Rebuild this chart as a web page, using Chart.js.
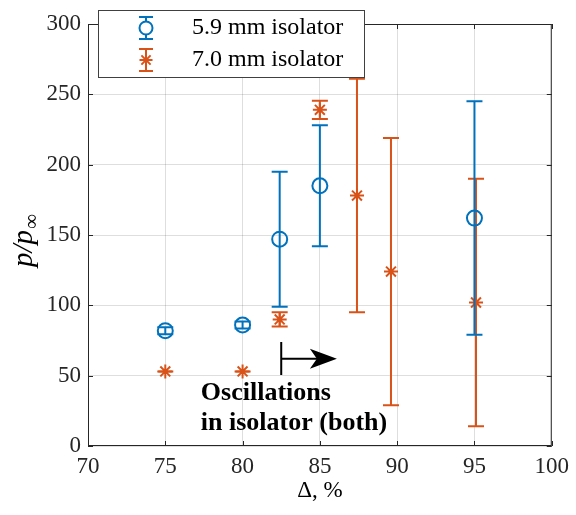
<!DOCTYPE html>
<html>
<head>
<meta charset="utf-8">
<script src="https://cdn.jsdelivr.net/npm/chart.js@4.4.1/dist/chart.umd.min.js"></script>
<style>
  body { margin: 0; background: #fff; }
  #wrap { width: 576px; height: 515px; }
</style>
</head>
<body>
<div id="wrap"><canvas id="chart"></canvas></div>
<script>
// 5.9 mm isolator: opening ratio, pressure ratio, +/- error
var deltaNarrow = [75, 80, 82.4, 85, 95];
var pressureNarrow = [82, 86, 147, 185, 162];
var errorNarrow = [2.5, 2.5, 48, 43, 83];

// 7.0 mm isolator
var deltaWide = [75, 80, 82.4, 85, 87.4, 89.6, 95.1];
var pressureWide = [53, 53, 90, 239, 178, 124, 102];
var errorWide = [0, 0, 5, 6.5, 83, 95, 88];

var xTickValues = [70, 75, 80, 85, 90, 95, 100];
var yTickValues = [0, 50, 100, 150, 200, 250, 300];

var BLUE = '#0072BD';
var ORANGE = '#D95319';
var AXIS = '#262626';
var SERIF = '"Liberation Serif", "Times New Roman", serif';

function toPoints(xs, ys, errs) {
    var out = [];
    for (var i = 0; i < xs.length; i++) {
        out.push({x: xs[i], y: ys[i], err: errs[i]});
    }
    return out;
}

function strokeErrorBar(ctx, px, top, bot, cap) {
    ctx.beginPath();
    ctx.moveTo(px, top); ctx.lineTo(px, bot);
    ctx.moveTo(px - cap, top); ctx.lineTo(px + cap, top);
    ctx.moveTo(px - cap, bot); ctx.lineTo(px + cap, bot);
    ctx.stroke();
}

// vertical error bars, drawn just under each dataset's markers
var errorBars = {
    id: 'errorBars',
    beforeDatasetDraw: function(chart, args) {
        var ds = chart.data.datasets[args.index];
        var ctx = chart.ctx, xs = chart.scales.x, ys = chart.scales.y;
        ctx.save();
        ctx.strokeStyle = ds.borderColor;
        ctx.lineWidth = 2;
        ds.data.forEach(function(d) {
            strokeErrorBar(ctx, xs.getPixelForValue(d.x),
                ys.getPixelForValue(d.y + d.err),
                ys.getPixelForValue(d.y - d.err), 8);
        });
        ctx.restore();
    }
};

// box around the axes with inward tick marks on every side
var frame = {
    id: 'frame',
    afterDatasetsDraw: function(chart) {
        var ctx = chart.ctx, a = chart.chartArea;
        var xs = chart.scales.x, ys = chart.scales.y;
        ctx.save();
        ctx.strokeStyle = AXIS;
        ctx.lineWidth = 1;
        ctx.strokeRect(a.left + 0.5, a.top + 0.5, a.right - a.left - 1, a.bottom - a.top - 1);
        ctx.beginPath();
        xTickValues.forEach(function(v) {
            var px = Math.round(xs.getPixelForValue(v)) + 0.5;
            ctx.moveTo(px, a.bottom); ctx.lineTo(px, a.bottom - 5);
            ctx.moveTo(px, a.top); ctx.lineTo(px, a.top + 5);
        });
        yTickValues.forEach(function(v) {
            var py = Math.round(ys.getPixelForValue(v)) + 0.5;
            ctx.moveTo(a.left, py); ctx.lineTo(a.left + 5, py);
            ctx.moveTo(a.right, py); ctx.lineTo(a.right - 5, py);
        });
        ctx.stroke();
        ctx.restore();
    }
};

// onset marker, arrow and note about the oscillations
var onsetNote = {
    id: 'onsetNote',
    afterDatasetsDraw: function(chart) {
        var ctx = chart.ctx, xs = chart.scales.x, ys = chart.scales.y;
        var x0 = xs.getPixelForValue(82.5), x1 = xs.getPixelForValue(86.1);
        var yArrow = ys.getPixelForValue(62);
        ctx.save();
        ctx.strokeStyle = '#000';
        ctx.fillStyle = '#000';
        ctx.lineWidth = 2;
        ctx.beginPath();
        ctx.moveTo(x0, ys.getPixelForValue(74));
        ctx.lineTo(x0, ys.getPixelForValue(50.5));
        ctx.moveTo(x0, yArrow);
        ctx.lineTo(x1 - 14, yArrow);
        ctx.stroke();
        ctx.beginPath();
        ctx.moveTo(x1, yArrow);
        ctx.lineTo(x1 - 27, yArrow - 10);
        ctx.lineTo(x1 - 20, yArrow);
        ctx.lineTo(x1 - 27, yArrow + 10);
        ctx.closePath();
        ctx.fill();

        ctx.font = 'bold 26px ' + SERIF;
        ctx.textBaseline = 'middle';
        ctx.textAlign = 'left';
        var tx = xs.getPixelForValue(77.3);
        ctx.fillText('Oscillations', tx, ys.getPixelForValue(37.7));
        ctx.fillText('in isolator (both)', tx, ys.getPixelForValue(16.4));
        ctx.restore();
    }
};

// legend box, axis titles
var decorations = {
    id: 'decorations',
    afterDraw: function(chart) {
        var ctx = chart.ctx, a = chart.chartArea;
        ctx.save();

        // legend
        ctx.fillStyle = '#fff';
        ctx.fillRect(98, 10, 266, 67);
        ctx.strokeStyle = '#404040';
        ctx.lineWidth = 1;
        ctx.strokeRect(98.5, 10.5, 266, 67);
        var rows = [28, 60];
        chart.data.datasets.forEach(function(ds, i) {
            var y = rows[i];
            ctx.strokeStyle = ds.borderColor;
            ctx.lineWidth = 2;
            strokeErrorBar(ctx, 146, y - 11, y + 11, 7);
            Chart.helpers.drawPoint(ctx, {
                pointStyle: ds.pointStyle, radius: 6.5, borderWidth: 2, rotation: 0
            }, 146, y);
            ctx.fillStyle = '#000';
            ctx.font = '24px ' + SERIF;
            ctx.textBaseline = 'middle';
            ctx.textAlign = 'left';
            ctx.fillText(ds.label, 192, y);
        });

        // x title
        ctx.fillStyle = '#000';
        ctx.font = '23px ' + SERIF;
        ctx.textAlign = 'center';
        ctx.textBaseline = 'middle';
        ctx.fillText('\u0394, %', (a.left + a.right) / 2, 491);

        // y title: p/p with a subscript infinity
        ctx.translate(32, 241);
        ctx.rotate(-Math.PI / 2);
        ctx.font = 'italic 29px ' + SERIF;
        var main = 'p/p';
        var wMain = ctx.measureText(main).width;
        ctx.font = '21px ' + SERIF;
        var wSub = ctx.measureText('\u221E').width;
        var start = -(wMain + wSub) / 2;
        ctx.textAlign = 'left';
        ctx.textBaseline = 'alphabetic';
        ctx.font = 'italic 29px ' + SERIF;
        ctx.fillText(main, start, 0);
        ctx.font = '21px ' + SERIF;
        ctx.fillText('\u221E', start + wMain + 1, 6);
        ctx.restore();
    }
};

var ctx = document.getElementById('chart');
new Chart(ctx, {
    type: 'scatter',
    data: {
        datasets: [{
            label: '5.9 mm isolator',
            data: toPoints(deltaNarrow, pressureNarrow, errorNarrow),
            borderColor: BLUE,
            backgroundColor: 'rgba(0,0,0,0)',
            pointStyle: 'circle',
            pointRadius: 7.5,
            pointBorderWidth: 2,
            showLine: false
        }, {
            label: '7.0 mm isolator',
            data: toPoints(deltaWide, pressureWide, errorWide),
            borderColor: ORANGE,
            backgroundColor: ORANGE,
            pointStyle: 'star',
            pointRadius: 7,
            pointBorderWidth: 2,
            showLine: false
        }]
    },
    options: {
        responsive: true,
        maintainAspectRatio: false,
        animation: false,
        layout: { padding: { top: 24, right: 21, left: 0, bottom: 0 } },
        plugins: {
            legend: { display: false },
            tooltip: { enabled: false }
        },
        scales: {
            x: {
                type: 'linear',
                min: 70,
                max: 100,
                afterBuildTicks: function(s) { s.ticks = xTickValues.map(function(v) { return {value: v}; }); },
                afterFit: function(s) { s.height = 69; },
                grid: { color: 'rgba(0,0,0,0.13)', drawTicks: false },
                border: { display: false },
                ticks: { color: AXIS, padding: 7, maxRotation: 0, font: { family: SERIF, size: 23 } }
            },
            y: {
                type: 'linear',
                min: 0,
                max: 300,
                afterBuildTicks: function(s) { s.ticks = yTickValues.map(function(v) { return {value: v}; }); },
                afterFit: function(s) { s.width = 88; },
                grid: { color: 'rgba(0,0,0,0.13)', drawTicks: false },
                border: { display: false },
                ticks: { color: AXIS, padding: 7, font: { family: SERIF, size: 23 } }
            }
        }
    },
    plugins: [errorBars, frame, onsetNote, decorations]
});
</script>
</body>
</html>
